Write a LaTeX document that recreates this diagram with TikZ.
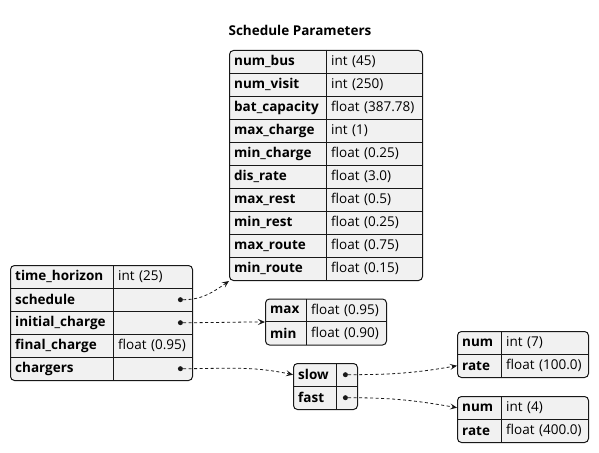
\documentclass[tikz,border=0pt]{standalone}
\usepackage{fontspec}
\setmainfont{Open Sans}
\usetikzlibrary{arrows.meta, calc}
\definecolor{cellfill}{HTML}{F1F1F1}
\definecolor{rule}{HTML}{181818}
\newcommand{\cellfont}{\fontsize{13.5}{16}\selectfont}
\tikzset{
	tablebox/.style={draw=rule, line width=1pt, fill=cellfill, rounded corners=4pt, rectangle, inner sep=0pt, anchor=north west},
	cell/.style={rectangle, inner xsep=5pt, inner ysep=0pt, minimum height=\rowh pt, align=left, anchor=north west},
	keycell/.style={cell, font=\cellfont\bfseries},
	valcell/.style={cell, font=\cellfont},
	dotmark/.style={circle, fill=rule, inner sep=0pt, minimum size=5pt},
	link/.style={draw=rule, line width=.8pt, dash pattern=on 3pt off 2.5pt, -{Stealth[length=7pt, width=6pt, inset=3pt]}}
}
\newcommand{\rowh}{23}
\newcommand{\jsonTable}[7]{ % args = name, x, y, key width, value width, number rows, list key/value
	\pgfmathsetmacro{\kw}{#4-10}
	\pgfmathsetmacro{\vw}{#5-10}
	\node[tablebox, minimum width=#4pt+#5pt, minimum height=#6*\rowh pt] (#1) at (#2,#3) {}; % outer box
	\foreach \k/\v [count=\i] in {#7} {
		\pgfmathsetmacro{\rowtop}{#3+(\i-1)*\rowh}
		\node[keycell, text width=\kw pt] (#1-k\i) at (#2,\rowtop) {\mbox{\k}}; % key cell
		\node[valcell, text width=\vw pt] (#1-v\i) at (#2+#4,\rowtop) {\mbox{\v}}; % value cell
		\ifnum\i>1
			\draw[rule, line width=.8pt] (#1-k\i.north west) -- (#1-v\i.north east); % row rule
		\fi
	};
	\draw[rule, line width=.8pt] (#1-k1.north east) -- (#1-k#6.south east); % column rule
}

\begin{document}
\begin{tikzpicture}[x=1pt, y=-1pt]
	\useasboundingbox (0,0) rectangle (599,452);
	\node[font=\cellfont\bfseries] (title) at (300,30) {Schedule Parameters};
	% tables
	\jsonTable{params}{229}{50}{97}{96}{10}{num\_bus/int (45), num\_visit/int (250), bat\_capacity/float (387.78), max\_charge/int (1), min\_charge/float (0.25), dis\_rate/float (3.0), max\_rest/float (0.5), min\_rest/float (0.25), max\_route/float (0.75), min\_route/float (0.15)}
	\jsonTable{root}{10}{265}{103}{79}{5}{time\_horizon/int (25), schedule/, initial\_charge/, final\_charge/float (0.95), chargers/}
	\jsonTable{mm}{265}{298.5}{41}{80}{2}{max/float (0.95), min/float (0.90)}
	\jsonTable{sf}{293}{363}{43}{21}{2}{slow/, fast/}
	\jsonTable{slow}{457}{331}{44}{87}{2}{num/int (7), rate/float (100.0)}
	\jsonTable{fast}{457}{396}{44}{87}{2}{num/int (4), rate/float (400.0)}
	% reference dots
	\foreach \t/\i in {root/2, root/3, root/5, sf/1, sf/2} {
		\node[dotmark] (\t-d\i) at ([xshift=-12pt]\t-v\i.east) {};
	};
	% links
	\draw[link] (root-d2) to[out=0, in=-145] (params.south west);
	\draw[link] (root-d3) to[out=0, in=180] (mm.west);
	\draw[link] (root-d5) to[out=0, in=168] (sf-k1.west);
	\draw[link] (sf-d1) to[out=0, in=190] (slow-k2.west);
	\draw[link] (sf-d2) to[out=0, in=170] (fast-k1.west);
\end{tikzpicture}
\end{document}
